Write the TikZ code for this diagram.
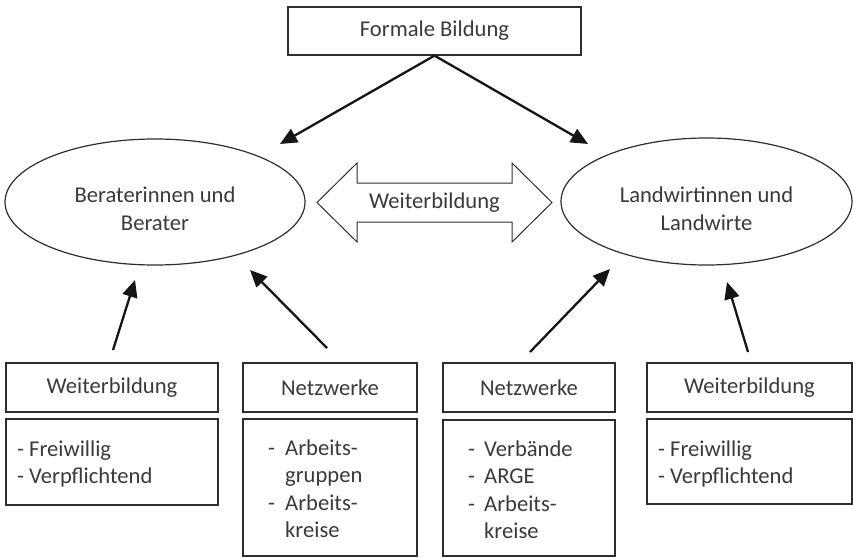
\documentclass[tikz,border=0pt]{standalone}
\usepackage{fontspec}
\setmainfont{Carlito}
\usetikzlibrary{arrows.meta,shapes.geometric}
\definecolor{txt}{HTML}{3A3A3A}
\definecolor{ln}{HTML}{2E2E2E}
\definecolor{ar}{HTML}{151515}
\begin{document}
\begin{tikzpicture}[x=1pt,y=-1pt,
  every node/.style={text=txt, font=\fontsize{22.6}{27.5}\selectfont},
  box/.style={draw=ln, line width=1.2pt, inner sep=0pt},
  ell/.style={draw=ln, line width=1.2pt, ellipse, inner sep=0pt},
  arr/.style={draw=ar, line width=2.3pt, -{Triangle[length=17pt,width=15pt]}},
  lst/.style={anchor=north west, inner sep=0pt, align=left},
  dbl/.style={draw=ln, line width=1pt, line join=miter},
]
\useasboundingbox (0,0) rectangle (853,557);

% top box
\node[box, minimum width=293pt, minimum height=48pt] (fb) at (434.5,31) {Formale Bildung};

% ellipses
\node[ell, minimum width=300pt, minimum height=126pt] (be) at (155,202) {};
\node[align=center, inner sep=0pt] (bt) at (155,208.5) {Beraterinnen und\\Berater};
\node[ell, minimum width=291pt, minimum height=127pt] (le) at (706.5,201.5) {};
\node[align=center, inner sep=0pt] (lt) at (706.5,208.5) {Landwirtinnen und\\Landwirte};

% double arrow
\draw[dbl] (317,202.5) -- (357,163) -- (357,183) -- (512,183) -- (512,163) -- (552,202.5)
  -- (512,242) -- (512,222) -- (357,222) -- (357,242) -- cycle;
\node[inner sep=0pt] (wb) at (434.5,203) {Weiterbildung};

% arrows from top box
\coordinate (tl) at (280,144);
\coordinate (tr) at (588,144);
\draw[arr] (fb.south) -- (tl);
\draw[arr] (fb.south) -- (tr);

% header boxes
\node[box, minimum width=212pt, minimum height=49pt] (h1) at (112,387.5) {Weiterbildung};
\node[box, minimum width=174pt, minimum height=49pt] (h2) at (330,387.5) {Netzwerke};
\node[box, minimum width=172pt, minimum height=49pt] (h3) at (529,387.5) {Netzwerke};
\node[box, minimum width=205pt, minimum height=49pt] (h4) at (749.5,387.5) {Weiterbildung};

% content boxes
\node[box, minimum width=212pt, minimum height=86pt] (c1) at (112,462) {};
\node[box, minimum width=174pt, minimum height=137pt] (c2) at (330,487.5) {};
\node[box, minimum width=172pt, minimum height=136pt] (c3) at (529,488) {};
\node[box, minimum width=205pt, minimum height=85pt] (c4) at (749.5,461.5) {};

\node[lst] (t1) at (17,436.75) {\strut- Freiwillig\\- Verpflichtend};
\node[lst] (t2) at (268,435.75) {\strut\makebox[17pt][l]{-}Arbeits-\\\hspace*{17pt}gruppen\\\makebox[17pt][l]{-}Arbeits-\\\hspace*{17pt}kreise};
\node[lst] (t3) at (468,436.75) {\strut\makebox[16pt][l]{-}Verbände\\\makebox[16pt][l]{-}ARGE\\\makebox[16pt][l]{-}Arbeits-\\\hspace*{16pt}kreise};
\node[lst] (t4) at (658,436.75) {\strut- Freiwillig\\- Verpflichtend};

% arrows from bottom
\coordinate (a1s) at (113,350); \coordinate (a1e) at (135,280);
\coordinate (a2s) at (327,348); \coordinate (a2e) at (250,270);
\coordinate (a3s) at (530,352); \coordinate (a3e) at (610,269);
\coordinate (a4s) at (748,352); \coordinate (a4e) at (727,282);
\draw[arr] (a1s) -- (a1e);
\draw[arr] (a2s) -- (a2e);
\draw[arr] (a3s) -- (a3e);
\draw[arr] (a4s) -- (a4e);
\end{tikzpicture}
\end{document}
